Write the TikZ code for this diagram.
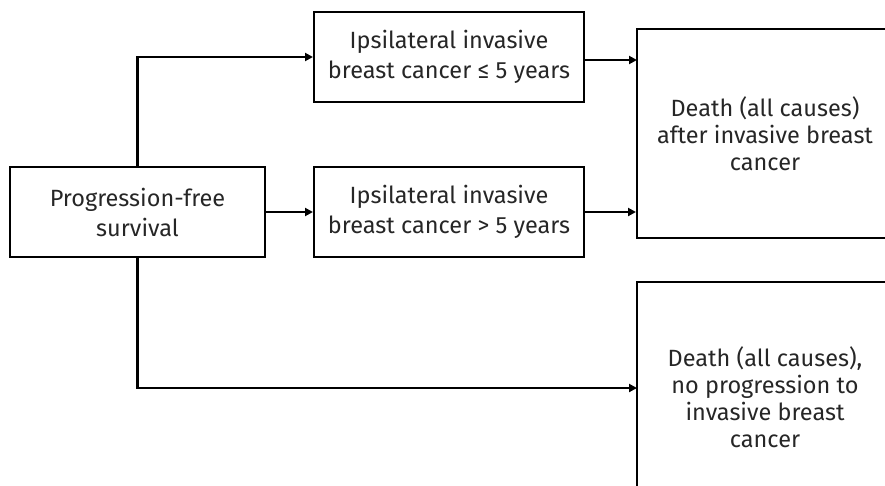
\documentclass[tikz,border=0pt]{standalone}
\usepackage{fontspec}
\setmainfont{Fira Sans}
\usetikzlibrary{arrows.meta,calc}
\begin{document}
\begin{tikzpicture}[x=1pt,y=-1pt,
  box/.style={draw=black,line width=2pt,align=center,text=black!85,inner sep=0pt,
    font=\fontsize{23.5}{30}\selectfont},
  bigbox/.style={box,font=\fontsize{23.5}{27}\selectfont},
  conn/.style={line width=2.6pt,-{Triangle[length=8pt,width=8pt]}}]
\useasboundingbox (0,0) rectangle (885,485);
\clip (0,0) rectangle (885,485);
\node[box,minimum width=255,minimum height=90] (pfs) at (137.5,212) {Progression-free\\survival};
\node[box,minimum width=270,minimum height=90] (ibc1) at (449,57) {Ipsilateral invasive\\breast cancer ≤ 5 years};
\node[box,minimum width=270,minimum height=90] (ibc2) at (449,212) {Ipsilateral invasive\\breast cancer > 5 years};
\node[bigbox,minimum width=256,minimum height=209] (d1) at (765,133.5) {Death (all causes)\\after invasive breast\\cancer};
\node[bigbox,minimum width=256,minimum height=230] (d2) at (765,397) {Death (all causes),\\no progression to\\invasive breast\\cancer};
\coordinate (d1a) at (637,60);
\coordinate (d2a) at (637,388);
\draw[conn] (pfs.north) |- (ibc1.west);
\draw[conn] (pfs.east) -- (ibc2.west);
\draw[conn] (ibc1.east |- d1a) -- (d1a);
\draw[conn] (ibc2.east) -- (ibc2.east -| d1.west);
\draw[conn] (pfs.south) |- (d2a);
\end{tikzpicture}
\end{document}
